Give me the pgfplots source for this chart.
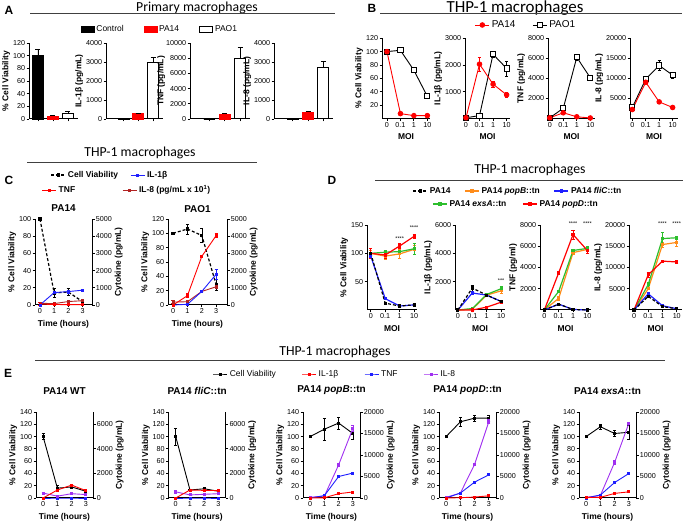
\documentclass[border=0pt]{standalone}
\usepackage{pgfplots}
\pgfplotsset{compat=1.18}
\usepackage{fontspec}
\setmainfont{Liberation Sans}
\newfontfamily\calfont{Carlito}
\definecolor{pred}{HTML}{FF0000}
\definecolor{pblue}{HTML}{1F1FFF}
\definecolor{pdred}{HTML}{B22222}
\definecolor{porange}{HTML}{FF8C1A}
\definecolor{pgreen}{HTML}{2DBE2D}
\definecolor{ppurple}{HTML}{A030F0}
\newcommand\tk{\fontsize{7.2}{8}\selectfont}
\newcommand\lb{\bfseries\fontsize{8.5}{9}\selectfont}
\pgfplotsset{
 prism/.style={scale only axis, anchor=south west,
   axis x line*=bottom, axis y line*=left,
   tick align=outside, major tick length=2.5bp,
   axis line style={line width=1bp, black},
   every tick/.style={line width=0.9bp, black},
   tick label style={font=\tk, inner sep=1.2bp},
   every axis y label/.style={at={(ticklabel cs:0.5)}, rotate=90, anchor=south, inner sep=1.5bp, font=\lb},
   every axis x label/.style={at={(ticklabel cs:0.5)}, anchor=north, inner sep=1.5bp, yshift=-3.5bp, font=\lb},
   /pgf/number format/assume math mode=true,
   /pgf/number format/1000 sep={},
   scaled y ticks=false, clip=false, ymin=0},
 eb/.style={error bars/y dir=both, error bars/y explicit,
   error bars/error bar style={line width=0.6bp, solid},
   error bars/error mark options={rotate=90, mark size=1.6bp, line width=0.6bp, solid}},
 ebp/.style={error bars/y dir=plus, error bars/y explicit,
   error bars/error bar style={line width=0.8bp},
   error bars/error mark options={rotate=90, mark size=2.5bp, line width=0.8bp}},
 bar/.style={ybar, bar width=11bp, bar shift=0pt},
 lg/.style={hide axis, scale only axis, width=1bp, height=1bp, xmin=0, xmax=1, ymin=0, ymax=1, anchor=center,
   legend cell align=left,
   legend style={at={(0.5,0.5)}, anchor=center, draw=none, fill=none},
   legend image code/.code={\draw[mark repeat=2,mark phase=2,##1] plot coordinates {(0bp,0bp)(7bp,0bp)(14bp,0bp)};}},
 mis/.style={xtick={0,1,2,3}, xticklabels={0,0.1,1,10}, xlabel={MOI}},
 tim/.style={xtick={0,1,2,3}, xlabel={Time (hours)}},
 rax/.style={axis y line*=right, axis x line=none, yticklabel pos=right,
   every axis y label/.style={at={(ticklabel cs:0.5)}, rotate=90, anchor=north, inner sep=1.5bp, font=\lb},
   ylabel={Cytokine (pg/mL)}},
 cv/.style={black, line width=0.9bp, mark=square*, mark size=1bp, eb},
 cvd/.style={black, densely dashed, line width=1.2bp, mark=square*, mark size=1bp, mark options={solid}, eb},
 ln/.style={line width=0.9bp, mark=square*, mark size=1bp, eb},
 dl/.style={line width=1.2bp, mark=square*, mark size=1bp, eb},
}
\begin{document}
\begin{tikzpicture}[x=1bp,y=1bp]
\useasboundingbox (0,0) rectangle (685,527);
% ---------- headers ----------
\node[font=\bfseries\fontsize{12}{12}\selectfont] at (9,517) {A};
\node[font=\bfseries\fontsize{12}{12}\selectfont] at (372,519) {B};
\node[font=\bfseries\fontsize{12}{12}\selectfont] at (9,347) {C};
\node[font=\bfseries\fontsize{12}{12}\selectfont] at (332,347) {D};
\node[font=\bfseries\fontsize{12}{12}\selectfont] at (8,154) {E};
\node[font=\calfont\fontsize{13.8}{14}\selectfont] at (197,519) {Primary macrophages};
\draw[line width=1bp, black!75] (30,513) -- (335,513);
\node[font=\calfont\fontsize{17}{17}\selectfont] at (515,518.5) {THP-1 macrophages};
\draw[line width=1bp, black!75] (380,513) -- (682,513);
\node[font=\calfont\fontsize{13.8}{14}\selectfont] at (140,374) {THP-1 macrophages};
\draw[line width=1bp, black!75] (27,364) -- (257,364);
\node[font=\calfont\fontsize{13.8}{14}\selectfont] at (530,357) {THP-1 macrophages};
\draw[line width=1bp, black!75] (375,346) -- (683,346);
\node[font=\calfont\fontsize{13.8}{14}\selectfont] at (335,175) {THP-1 macrophages};
\draw[line width=1bp, black!75] (35,166) -- (665,166);

% ---------- legends ----------
\begin{axis}[lg, at={(160bp,498bp)}, legend columns=3,
  legend style={font=\fontsize{8.5}{9}\selectfont, /tikz/every even column/.append style={column sep=18bp}},
  legend image code/.code={\draw[#1] (0bp,-3bp) rectangle (13bp,3bp);}]
\addlegendimage{fill=black, draw=black}\addlegendentry{Control}
\addlegendimage{fill=pred, draw=pred}\addlegendentry{PA14}
\addlegendimage{fill=white, draw=black, line width=0.9bp}\addlegendentry{PAO1}
\end{axis}
\begin{axis}[lg, at={(526bp,502bp)}, legend columns=2,
  legend style={font=\fontsize{10}{11}\selectfont, /tikz/every even column/.append style={column sep=15bp}}]
\addlegendimage{pred, line width=0.9bp, mark=*, mark size=2.3bp}\addlegendentry{PA14}
\addlegendimage{black, line width=0.9bp, mark=square*, mark size=2.6bp, mark options={fill=white}}\addlegendentry{PAO1}
\end{axis}
\begin{axis}[lg, at={(110bp,352bp)}, legend columns=2,
  legend style={font=\lb, /tikz/every even column/.append style={column sep=10bp}}]
\addlegendimage{black, densely dashed, line width=1.2bp, mark=square*, mark size=1bp, mark options={solid}}\addlegendentry{Cell Viability}
\addlegendimage{pblue, line width=0.9bp, mark=square*, mark size=1bp}\addlegendentry{IL-1β}
\end{axis}
\begin{axis}[lg, at={(127bp,337bp)}, legend columns=2,
  legend style={font=\lb, /tikz/every even column/.append style={column sep=45bp}}]
\addlegendimage{pred, line width=0.9bp, mark=square*, mark size=1bp}\addlegendentry{TNF}
\addlegendimage{pdred, line width=0.9bp, mark=square*, mark size=1bp}\addlegendentry{IL-8 (pg/mL x 10\textsuperscript{1})}
\end{axis}
\begin{axis}[lg, at={(518bp,336bp)}, legend columns=3,
  legend style={font=\lb, /tikz/every even column/.append style={column sep=12bp}}]
\addlegendimage{black, densely dashed, line width=1.2bp, mark=square*, mark size=1bp, mark options={solid}}\addlegendentry{PA14}
\addlegendimage{porange, line width=1.2bp, mark=square*, mark size=1bp}\addlegendentry{PA14 \textit{popB}::tn}
\addlegendimage{pblue, line width=1.2bp, mark=square*, mark size=1bp}\addlegendentry{PA14 \textit{fliC}::tn}
\end{axis}
\begin{axis}[lg, at={(516bp,323bp)}, legend columns=2,
  legend style={font=\lb, /tikz/every even column/.append style={column sep=14bp}}]
\addlegendimage{pgreen, line width=1.2bp, mark=square*, mark size=1bp}\addlegendentry{PA14 \textit{exsA}::tn}
\addlegendimage{pred, line width=1.2bp, mark=square*, mark size=1bp}\addlegendentry{PA14 \textit{popD}::tn}
\end{axis}
\begin{axis}[lg, at={(335bp,153bp)}, legend columns=4,
  legend style={font=\fontsize{8.5}{9}\selectfont, /tikz/every even column/.append style={column sep=24bp}}]
\addlegendimage{black, line width=0.9bp, mark=square*, mark size=1bp}\addlegendentry{Cell Viability}
\addlegendimage{pred, line width=0.9bp, mark=square*, mark size=1bp}\addlegendentry{IL-1β}
\addlegendimage{pblue, line width=0.9bp, mark=square*, mark size=1bp}\addlegendentry{TNF}
\addlegendimage{ppurple, line width=0.9bp, mark=square*, mark size=1bp}\addlegendentry{IL-8}
\end{axis}

% ---------- Panel A ----------
\begin{axis}[prism, at={(29bp,408bp)}, width=49bp, height=76bp, xmin=0.4, xmax=3.67, ymax=120,
  ytick={0,20,...,120}, xtick={1,2,3}, xticklabels={,,}, ylabel={\% Cell Viability}]
\addplot[bar, fill=black, draw=black, line width=0.8bp, ebp] coordinates {(1,100) +- (0,10)};
\addplot[bar, fill=pred, draw=pred, line width=0.8bp, ebp] coordinates {(2,4) +- (0,1.5)};
\addplot[bar, fill=white, draw=black, line width=1bp, ebp] coordinates {(3,9) +- (0,3)};
\end{axis}
\begin{axis}[prism, at={(106bp,408bp)}, width=57bp, height=76bp, xmin=-0.18, xmax=3.67, ymax=4000,
  ytick={0,1000,...,4000}, xtick={1,2,3}, xticklabels={,,}, ylabel={IL-1β (pg/mL)}]
\addplot[bar, fill=black, draw=black, line width=0.8bp, ebp] coordinates {(1,15) +- (0,10)};
\addplot[bar, fill=pred, draw=pred, line width=0.8bp, ebp] coordinates {(2,270) +- (0,50)};
\addplot[bar, fill=white, draw=black, line width=1bp, ebp] coordinates {(3,2950) +- (0,300)};
\end{axis}
\begin{axis}[prism, at={(190bp,408bp)}, width=60bp, height=76bp, xmin=-0.26, xmax=3.65, ymax=10000,
  ytick={0,2000,...,10000}, xtick={1,2,3}, xticklabels={,,}, ylabel={TNF (pg/mL)},
  ylabel style={xshift=0bp, yshift=-2bp}]
\addplot[bar, fill=black, draw=black, line width=0.8bp, ebp] coordinates {(1,0) +- (0,0)};
\addplot[bar, fill=pred, draw=pred, line width=0.8bp, ebp] coordinates {(2,650) +- (0,80)};
\addplot[bar, fill=white, draw=black, line width=1bp, ebp] coordinates {(3,8000) +- (0,1400)};
\end{axis}
\begin{axis}[prism, at={(274bp,408bp)}, width=59bp, height=76bp, xmin=-0.22, xmax=3.63, ymax=4000,
  ytick={0,1000,...,4000}, xtick={1,2,3}, xticklabels={,,}, ylabel={IL-8 (pg/mL)}]
\addplot[bar, fill=black, draw=black, line width=0.8bp, ebp] coordinates {(1,15) +- (0,10)};
\addplot[bar, fill=pred, draw=pred, line width=0.8bp, ebp] coordinates {(2,350) +- (0,40)};
\addplot[bar, fill=white, draw=black, line width=1bp, ebp] coordinates {(3,2700) +- (0,350)};
\end{axis}

% ---------- Panel B ----------
\begin{axis}[prism, mis, at={(382bp,408.7bp)}, width=48bp, height=80bp, xmin=-0.37, xmax=3.2, ymax=120,
  ytick={20,40,...,120}, ylabel={\% Cell Viability}]
\addplot[black, line width=0.9bp, mark=square*, mark size=2.6bp, mark options={fill=white}, eb] coordinates {(0,100) (1,102) (2,72)+-(0,3) (3,33)+-(0,3)};
\addplot[pred, line width=0.9bp, mark=*, mark size=2.3bp, eb] coordinates {(0,100) (1,7) (2,4) (3,4)};
\end{axis}
\begin{axis}[prism, mis, at={(465bp,408.7bp)}, width=45bp, height=80bp, xmin=-0.07, xmax=3.25, ymax=3000,
  ytick={1000,2000,3000}, ylabel={IL-1β (pg/mL)}]
\addplot[black, line width=0.9bp, mark=square*, mark size=2.6bp, mark options={fill=white}, eb] coordinates {(0,20) (1,100) (2,2400)+-(0,100) (3,1870)+-(0,280)};
\addplot[pred, line width=0.9bp, mark=*, mark size=2.3bp, eb] coordinates {(0,20) (1,2030)+-(0,250) (2,1280)+-(0,120) (3,880)+-(0,80)};
\end{axis}
\begin{axis}[prism, mis, at={(548bp,408.7bp)}, width=47bp, height=80bp, xmin=-0.13, xmax=3.35, ymax=8000,
  ytick={2000,4000,6000,8000}, ylabel={TNF (pg/mL)}]
\addplot[black, line width=0.9bp, mark=square*, mark size=2.6bp, mark options={fill=white}, eb] coordinates {(0,50) (1,1000) (2,6100)+-(0,300) (3,4050)};
\addplot[pred, line width=0.9bp, mark=*, mark size=2.3bp, eb] coordinates {(0,50) (1,550) (2,150) (3,30)};
\end{axis}
\begin{axis}[prism, mis, at={(630bp,408.7bp)}, width=48bp, height=80bp, xmin=-0.17, xmax=3.4, ymax=20000,
  ytick={5000,10000,15000,20000}, ylabel={IL-8 (pg/mL)}]
\addplot[black, line width=0.9bp, mark=square*, mark size=2.6bp, mark options={fill=white}, eb] coordinates {(0,2700) (1,9800)+-(0,400) (2,13200)+-(0,1300) (3,10800)+-(0,800)};
\addplot[pred, line width=0.9bp, mark=*, mark size=2.3bp, eb] coordinates {(0,2200) (1,9000) (2,4100)+-(0,400) (3,2700)};
\end{axis}

% ---------- Panel C ----------
\begin{axis}[prism, tim, at={(35bp,222bp)}, width=57bp, height=86bp, xmin=-0.35, xmax=3.67, ymax=100,
  ytick={0,20,...,100}, ylabel={\% Cell Viability}, title={PA14},
  title style={font=\bfseries\fontsize{10}{11}\selectfont, yshift=-2bp}]
\addplot[cvd] coordinates {(0,100) (1,14)+-(0,5) (2,15)+-(0,4) (3,4)+-(0,1)};
\end{axis}
\begin{axis}[prism, rax, at={(35bp,222bp)}, width=57bp, height=86bp, xmin=-0.35, xmax=3.67, ymax=5000,
  ytick={0,1000,...,5000}]
\addplot[ln, pdred] coordinates {(0,100) (1,80) (2,200) (3,250)};
\addplot[ln, pred] coordinates {(0,50)+-(0,80) (1,30) (2,20) (3,20)};
\addplot[ln, pblue] coordinates {(0,0) (1,720)+-(0,50) (2,780)+-(0,100) (3,860)+-(0,50)};
\end{axis}
\begin{axis}[prism, tim, at={(168bp,222bp)}, width=59bp, height=86bp, xmin=-0.35, xmax=3.75, ymax=120,
  ytick={0,20,...,120}, ylabel={\% Cell Viability}, title={PAO1},
  title style={font=\bfseries\fontsize{10}{11}\selectfont, yshift=-3bp}]
\addplot[cvd] coordinates {(0,100) (1,106)+-(0,7) (2,97)+-(0,10) (3,28)+-(0,8)};
\end{axis}
\begin{axis}[prism, rax, at={(168bp,222bp)}, width=59bp, height=86bp, xmin=-0.35, xmax=3.75, ymax=5000,
  ytick={0,1000,...,5000}]
\addplot[ln, pdred] coordinates {(0,170)+-(0,80) (1,190)+-(0,60) (2,790) (3,1060)+-(0,80)};
\addplot[ln, pblue] coordinates {(0,0) (1,40) (2,790)+-(0,50) (3,1790)+-(0,300)};
\addplot[ln, pred] coordinates {(0,0) (1,540)+-(0,120) (2,2830) (3,4040)+-(0,100)};
\end{axis}

% ---------- Panel D ----------
\begin{axis}[prism, mis, at={(367bp,217bp)}, width=50bp, height=85bp, xmin=-0.26, xmax=3.2, ymax=150,
  ytick={50,100,150}, ylabel={\% Cell Viability}]
\addplot[dl, porange] coordinates {(0,100)+-(0,6) (1,95)+-(0,5) (2,99)+-(0,8) (3,107)+-(0,8)};
\addplot[dl, pgreen] coordinates {(0,100) (1,102)+-(0,3) (2,103) (3,108)+-(0,10)};
\addplot[dl, pred] coordinates {(0,100)+-(0,8) (1,97)+-(0,5) (2,113)+-(0,5) (3,130)+-(0,4)};
\addplot[dl, pblue] coordinates {(0,95) (1,20) (2,7) (3,9)};
\addplot[cvd] coordinates {(0,100) (1,12) (2,7)+-(0,2) (3,9)+-(0,3)};
\node[font=\fontsize{5.5}{6}\selectfont, anchor=south] at (axis cs:2,117) {****};
\node[font=\fontsize{5.5}{6}\selectfont, anchor=south] at (axis cs:3,135) {****};
\end{axis}
\begin{axis}[prism, mis, at={(455bp,217bp)}, width=50bp, height=85bp, xmin=-0.2, xmax=3.27, ymax=6000,
  ytick={2000,4000,6000}, ylabel={IL-1β (pg/mL)}]
\addplot[dl, porange] coordinates {(0,0) (1,50) (2,1050) (3,1350)+-(0,150)};
\addplot[dl, pgreen] coordinates {(0,0) (1,100) (2,1100) (3,1500)+-(0,150)};
\addplot[dl, pred] coordinates {(0,0) (1,0) (2,200) (3,550)};
\addplot[dl, pblue] coordinates {(0,0) (1,1200) (2,1050) (3,600)};
\addplot[cvd] coordinates {(0,0) (1,1550)+-(0,200) (2,1050)+-(0,60) (3,600)};
\node[font=\fontsize{5.5}{6}\selectfont, anchor=south] at (axis cs:3,1720) {***};
\end{axis}
\begin{axis}[prism, mis, at={(540bp,217bp)}, width=51bp, height=85bp, xmin=-0.3, xmax=3.25, ymax=8000,
  ytick={2000,4000,6000,8000}, ylabel={TNF (pg/ml)}]
\addplot[dl, porange] coordinates {(0,0) (1,1100)+-(0,200) (2,5400)+-(0,150) (3,5700)};
\addplot[dl, pgreen] coordinates {(0,0) (1,1750)+-(0,100) (2,5600)+-(0,150) (3,5800)+-(0,150)};
\addplot[dl, pred] coordinates {(0,0) (1,3500)+-(0,150) (2,7100)+-(0,400) (3,5600)+-(0,300)};
\addplot[dl, pblue] coordinates {(0,0) (1,550) (2,50) (3,0)};
\addplot[cvd] coordinates {(0,0) (1,550) (2,50) (3,0)};
\node[font=\fontsize{5.5}{6}\selectfont, anchor=south] at (axis cs:2,7650) {****};
\node[font=\fontsize{5.5}{6}\selectfont, anchor=south] at (axis cs:3,7650) {****};
\end{axis}
\begin{axis}[prism, mis, at={(629bp,217bp)}, width=53bp, height=85bp, xmin=-0.35, xmax=3.37, ymax=20000,
  ytick={5000,10000,15000,20000}, ylabel={IL-8 (pg/mL)}]
\addplot[dl, porange] coordinates {(0,0) (1,5000) (2,15400)+-(0,600) (3,15900)+-(0,800)};
\addplot[dl, pgreen] coordinates {(0,0) (1,6000)+-(0,600) (2,16800)+-(0,1500) (3,17000)+-(0,400)};
\addplot[dl, pred] coordinates {(0,0) (1,8300)+-(0,500) (2,11500)+-(0,300) (3,11300)+-(0,300)};
\addplot[dl, pblue] coordinates {(0,0) (1,3800) (2,1000) (3,300)};
\addplot[cvd] coordinates {(0,0) (1,3200) (2,800) (3,300)};
\node[font=\fontsize{5.5}{6}\selectfont, anchor=south] at (axis cs:2,19100) {****};
\node[font=\fontsize{5.5}{6}\selectfont, anchor=south] at (axis cs:3,19100) {****};
\end{axis}

% ---------- Panel E ----------
% E1
\begin{axis}[prism, tim, at={(36bp,29bp)}, width=57bp, height=86bp, xmin=-0.5, xmax=3.5, ymax=140,
  ytick={0,20,...,140}, ylabel={\% Cell Viability}, title={PA14 WT},
  title style={font=\bfseries\fontsize{10}{11}\selectfont, yshift=8bp}]
\addplot[cv] coordinates {(0,100)+-(0,5) (1,16)+-(0,4) (2,18)+-(0,3) (3,11)+-(0,3)};
\end{axis}
\begin{axis}[prism, rax, at={(36bp,29bp)}, width=57bp, height=86bp, xmin=-0.5, xmax=3.5, ymax=7000,
  ytick={0,2000,4000,6000}]
\addplot[ln, pblue] coordinates {(0,0) (1,0) (2,0) (3,0)};
\addplot[ln, ppurple] coordinates {(0,400)+-(0,60) (1,150) (2,350) (3,280)};
\addplot[ln, pred] coordinates {(0,0) (1,650)+-(0,50) (2,1050)+-(0,100) (3,600)+-(0,50)};
\end{axis}
% E2
\begin{axis}[prism, tim, at={(168.6bp,29bp)}, width=57bp, height=86bp, xmin=-0.5, xmax=3.5, ymax=140,
  ytick={0,20,...,140}, ylabel={\% Cell Viability}, title={PA14 \textit{fliC}::tn},
  title style={font=\bfseries\fontsize{10}{11}\selectfont, yshift=8bp}]
\addplot[cv] coordinates {(0,100)+-(0,14) (1,13)+-(0,1) (2,15)+-(0,1) (3,11)+-(0,1)};
\end{axis}
\begin{axis}[prism, rax, at={(168.6bp,29bp)}, width=57bp, height=86bp, xmin=-0.5, xmax=3.5, ymax=7000,
  ytick={0,2000,4000,6000}]
\addplot[ln, pblue] coordinates {(0,0) (1,0) (2,0) (3,0)};
\addplot[ln, ppurple] coordinates {(0,500)+-(0,80) (1,250) (2,300) (3,350)};
\addplot[ln, pred] coordinates {(0,0) (1,650) (2,620) (3,600)};
\end{axis}
% E3
\begin{axis}[prism, tim, at={(303bp,29bp)}, width=57bp, height=86bp, xmin=-0.5, xmax=3.5, ymax=140,
  ytick={0,20,...,140}, ylabel={\% Cell Viability}, title={PA14 \textit{popB}::tn},
  title style={font=\bfseries\fontsize{10}{11}\selectfont, yshift=8bp}]
\addplot[cv] coordinates {(0,100) (1,112)+-(0,18) (2,122)+-(0,10) (3,105)+-(0,10)};
\end{axis}
\begin{axis}[prism, rax, at={(303bp,29bp)}, width=57bp, height=86bp, xmin=-0.5, xmax=3.5, ymax=20000,
  ytick={0,5000,...,20000}]
\addplot[ln, ppurple] coordinates {(0,150) (1,450) (2,7700)+-(0,300) (3,16200)+-(0,800)};
\addplot[ln, pblue] coordinates {(0,0) (1,550) (2,5000) (3,5800)};
\addplot[ln, pred] coordinates {(0,0) (1,50) (2,1000) (3,1400)};
\end{axis}
% E4
\begin{axis}[prism, tim, at={(439bp,29bp)}, width=57bp, height=86bp, xmin=-0.5, xmax=3.5, ymax=140,
  ytick={0,20,...,140}, ylabel={\% Cell Viability}, title={PA14 \textit{popD}::tn},
  title style={font=\bfseries\fontsize{10}{11}\selectfont, yshift=8bp}]
\addplot[cv] coordinates {(0,100) (1,124)+-(0,8) (2,130)+-(0,5) (3,130)+-(0,5)};
\end{axis}
\begin{axis}[prism, rax, at={(439bp,29bp)}, width=57bp, height=86bp, xmin=-0.5, xmax=3.5, ymax=20000,
  ytick={0,5000,...,20000}]
\addplot[ln, ppurple] coordinates {(0,150) (1,1150) (2,7850)+-(0,300) (3,17800)+-(0,500)};
\addplot[ln, pblue] coordinates {(0,0) (1,1150) (2,3700) (3,5400)};
\addplot[ln, pred] coordinates {(0,0) (1,70) (2,220) (3,500)};
\end{axis}
% E5
\begin{axis}[prism, tim, at={(579bp,29bp)}, width=57bp, height=86bp, xmin=-0.5, xmax=3.5, ymax=140,
  ytick={0,20,...,140}, ylabel={\% Cell Viability}, title={PA14 \textit{exsA}::tn},
  title style={font=\bfseries\fontsize{10}{11}\selectfont, yshift=8bp}]
\addplot[cv] coordinates {(0,100) (1,116)+-(0,4) (2,105)+-(0,5) (3,107)+-(0,12)};
\end{axis}
\begin{axis}[prism, rax, at={(579bp,29bp)}, width=57bp, height=86bp, xmin=-0.5, xmax=3.5, ymax=20000,
  ytick={0,5000,...,20000}]
\addplot[ln, ppurple] coordinates {(0,150) (1,600) (2,8300)+-(0,400) (3,17400)+-(0,300)};
\addplot[ln, pblue] coordinates {(0,0) (1,700) (2,3600) (3,5700)};
\addplot[ln, pred] coordinates {(0,150) (1,150) (2,1070) (3,1430)};
\end{axis}
\end{tikzpicture}
\end{document}
